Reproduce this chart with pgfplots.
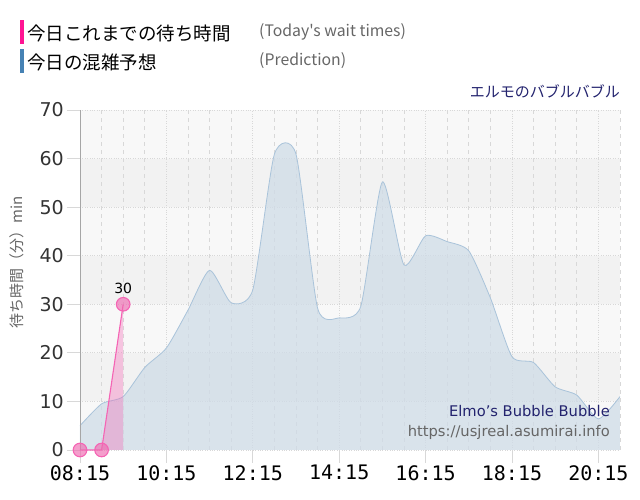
\documentclass[border=0pt]{standalone}
\usepackage{fontspec}
\usepackage{pgfplots}
\pgfplotsset{compat=1.18}
\setmainfont{DejaVu Sans}
\newfontfamily\jp{Noto Sans CJK JP}
\newfontfamily\mono{DejaVu Sans Mono}
\definecolor{hotpk}{HTML}{FF1493}
\definecolor{linepk}{HTML}{F564B4}
\definecolor{markpk}{HTML}{EE6AB0}
\definecolor{steel}{HTML}{4682B4}
\definecolor{navyt}{HTML}{23236E}
\definecolor{grayt}{HTML}{666666}
\definecolor{bandL}{HTML}{F8F8F8}
\definecolor{bandD}{HTML}{F2F2F2}
\definecolor{areaF}{HTML}{CFDCE7}
\definecolor{areaL}{HTML}{A9C3DA}
\definecolor{gridc}{HTML}{D8D8D8}

\pgfplotstableread{
t v
0 5
30 9.5
60 11
90 17
120 21
150 28.8
180 37
210 30.3
240 33
270 60.9
300 60.9
330 29.2
360 27.2
390 29.6
420 55.2
450 38.1
480 44.1
510 42.9
540 41
570 31.3
600 19.2
630 18
660 13
690 11.3
720 6.4
750 11
}\predtab

\pgfplotstableread{
t v
0 0
30 0
60 30
}\todaytab

\begin{document}
\begin{tikzpicture}
\path[use as bounding box] (0pt,0pt) rectangle (640pt,500pt);
% background bands (plot area 80..620 x 50..390, 10 units = 340/7 pt)
\fill[bandL] (80pt,50pt) rectangle (620pt,390pt);
\fill[bandD] (80pt,98.571pt) rectangle (620pt,147.143pt);
\fill[bandD] (80pt,195.714pt) rectangle (620pt,244.286pt);
\fill[bandD] (80pt,292.857pt) rectangle (620pt,341.429pt);
\begin{axis}[
  at={(80pt,50pt)}, anchor=south west,
  scale only axis, width=540pt, height=340pt,
  xmin=0, xmax=750, ymin=0, ymax=70,
  xtick={0,120,...,720},
  xticklabels={08:15,10:15,12:15,14:15,16:15,18:15,20:15},
  minor xtick={30,60,90,150,180,210,270,300,330,390,420,450,510,540,570,630,660,690,750},
  ytick={0,10,...,70},
  xtick pos=bottom, ytick pos=left,
  xmajorgrids, xminorgrids, ymajorgrids,
  major grid style={gridc, dotted, line width=0.8pt},
  minor grid style={gridc, line width=0.8pt, dash pattern=on 4pt off 4pt},
  axis line style={draw=none},
  tick align=outside,
  xtick style={draw=gridc, line width=0.8pt},
  ytick style={draw=gridc, line width=0.8pt},
  major tick length=13pt,
  minor tick length=0pt,
  /pgf/number format/assume math mode=true,
  yticklabel style={font=\fontsize{19}{19}\selectfont, text=black!80, inner sep=3pt},
  xticklabel style={font=\mono\fontsize{20}{20}\selectfont, text=black, inner sep=2pt},
  clip=false,
]
\addplot[draw=none, fill=areaF, fill opacity=0.75, smooth, tension=0.38] table[x=t,y=v] {\predtab} \closedcycle;
\addplot[draw=areaL, line width=0.8pt, smooth, tension=0.38] table[x=t,y=v] {\predtab};
\addplot[draw=none, fill=linepk, fill opacity=0.35] table[x=t,y=v] {\todaytab} \closedcycle;
\addplot[draw=linepk, line width=1.1pt, mark=*, mark size=6.8pt, mark options={draw=none, fill=markpk, fill opacity=0.65}] table[x=t,y=v] {\todaytab};
\node[font=\fontsize{14}{14}\selectfont, anchor=south] at (axis cs:60,30) [yshift=7pt] {30};
\draw[gray!70, line width=0.8pt] (axis cs:0,0) -- (axis cs:0,70);
\end{axis}
% legend
\fill[hotpk] (20pt,456pt) rectangle (24pt,480pt);
\fill[steel] (20pt,427pt) rectangle (24pt,451pt);
\node[anchor=west, inner sep=0, font=\jp\fontsize{18.5}{18.5}\selectfont] at (27pt,467pt) {今日これまでの待ち時間};
\node[anchor=west, inner sep=0, font=\jp\fontsize{18.5}{18.5}\selectfont] at (27pt,438pt) {今日の混雑予想};
\node[anchor=west, inner sep=0, text=grayt, font=\jp\fontsize{15.8}{15.8}\selectfont] at (259pt,468pt) {(Today's wait times)};
\node[anchor=west, inner sep=0, text=grayt, font=\jp\fontsize{15.8}{15.8}\selectfont] at (259pt,439pt) {(Prediction)};
\node[anchor=east, inner sep=0, text=navyt, font=\jp\fontsize{15}{15}\selectfont] at (620pt,409pt) {エルモのバブルバブル};
\node[rotate=90, inner sep=0, text=grayt, font=\jp\fontsize{15}{15}\selectfont] at (17pt,238pt) {待ち時間（分）min};
\node[anchor=east, inner sep=0, text=navyt, font=\fontsize{14.7}{14.7}\selectfont] at (610pt,89pt) {Elmo's Bubble Bubble};
\node[anchor=east, inner sep=0, text=grayt, font=\fontsize{14.7}{14.7}\selectfont] at (610pt,68pt) {https://usjreal.asumirai.info};
\end{tikzpicture}
\end{document}
